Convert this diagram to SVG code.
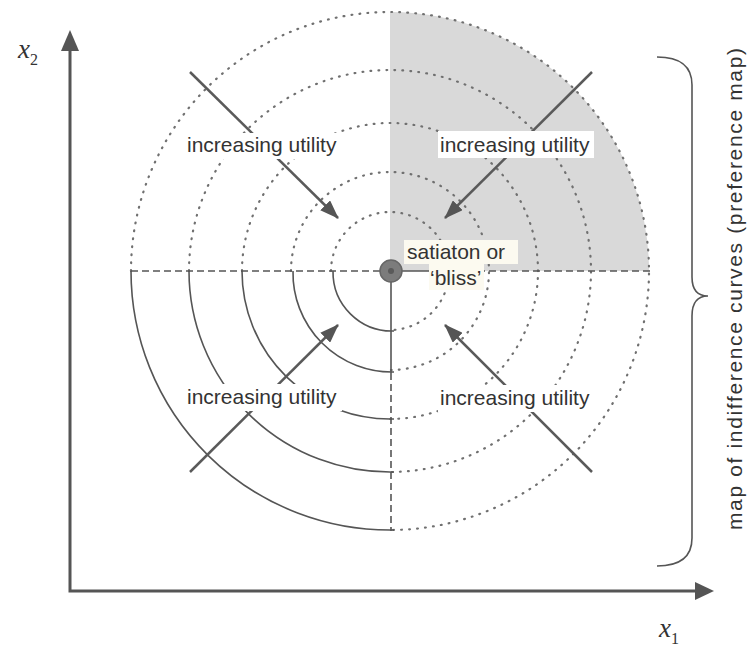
<svg xmlns="http://www.w3.org/2000/svg" width="747" height="646" viewBox="0 0 747 646">
<style>
.dot{fill:none;stroke:#707070;stroke-width:2.2;stroke-dasharray:0.8 7.2;stroke-linecap:round}
.arc{fill:none;stroke:#555;stroke-width:1.6}
.dash{fill:none;stroke:#555;stroke-width:1.6;stroke-dasharray:7 4}
.ax{fill:none;stroke:#555;stroke-width:3}
.arr{fill:none;stroke:#5a5a5a;stroke-width:2.5;marker-end:url(#ah)}
.lbl{font-family:"Liberation Sans",Arial,sans-serif;font-size:21px;fill:#333}
.var{font-family:"Liberation Serif","Times New Roman",serif;font-style:italic;fill:#333}
.box{fill:#fff}
</style>
<defs>
<marker id="ah" markerUnits="userSpaceOnUse" markerWidth="19" markerHeight="14" viewBox="0 0 19 14" refX="18" refY="7" orient="auto">
<path d="M0,0 L19,7 L0,14 z" fill="#555"/>
</marker>
</defs>
<rect width="747" height="646" fill="#fff"/>
<g id="preference-map">
<path d="M390,271 L390,12 A259 259 0 0 1 649,271 Z" fill="#d9d9d9"/>
<path class="dot" d="M131,271 A259 259 0 1 1 390,530"/>
<path class="dot" d="M189,271 A201 201 0 1 1 390,472"/>
<path class="dot" d="M242,271 A148 148 0 1 1 390,419"/>
<path class="dot" d="M291,271 A99 99 0 1 1 390,370"/>
<path class="dot" d="M331,271 A59 59 0 1 1 390,330"/>
<path class="arc" d="M131,271 A259 259 0 0 0 394,530"/>
<path class="arc" d="M189,271 A201 201 0 0 0 394,472"/>
<path class="arc" d="M242,271 A148 148 0 0 0 394,419"/>
<path class="arc" d="M293,271 A99 99 0 0 0 394,372"/>
<path class="arc" d="M333,271 A59 59 0 0 0 394,331"/>
<path class="dash" d="M131,271 H382"/>
<path class="arc" d="M400,271 H434"/>
<path class="dash" d="M434,271 H652"/>
<path class="arc" d="M391,282 V373"/>
<path class="dash" d="M391,373 V531"/>
</g>
<g id="axes">
<path class="ax" d="M70,48 V591 H696"/>
<polygon points="70,30 61,51 79,51" fill="#555"/>
<polygon points="714,591 695,582 695,600" fill="#555"/>
<text class="var" x="18" y="58" font-size="27">x<tspan font-size="16" dy="7" font-style="normal">2</tspan></text>
<text class="var" x="659" y="637" font-size="27">x<tspan font-size="16" dy="7" font-style="normal">1</tspan></text>
</g>
<g id="connectors">
<line class="arr" x1="190" y1="72" x2="338" y2="218"/>
<line class="arr" x1="592" y1="72" x2="445" y2="218"/>
<line class="arr" x1="190" y1="472" x2="338" y2="325"/>
<line class="arr" x1="592" y1="472" x2="445" y2="325"/>
</g>
<g id="label-ul">
<rect class="box" x="185" y="133" width="157" height="26"/>
<text class="lbl" x="187" y="152">increasing utility</text>
</g>
<g id="label-ur">
<rect class="box" x="438" y="131" width="156" height="27"/>
<text class="lbl" x="440" y="152">increasing utility</text>
</g>
<g id="label-ll">
<rect class="box" x="185" y="384" width="157" height="27"/>
<text class="lbl" x="187" y="404">increasing utility</text>
</g>
<g id="label-lr">
<rect class="box" x="438" y="385" width="156" height="27"/>
<text class="lbl" x="440" y="405">increasing utility</text>
</g>
<g id="bliss">
<circle cx="391" cy="271" r="11" fill="#7c7c7c" stroke="#666" stroke-width="1.5"/>
<circle cx="391" cy="271" r="3" fill="#5a5a5a"/>
<rect x="404" y="240" width="114" height="24" fill="#fcfaf0"/>
<rect x="429" y="264" width="55" height="26" fill="#fcfaf0"/>
<text class="lbl" x="407" y="259">satiaton or</text>
<text class="lbl" x="430" y="285">‘bliss’</text>
</g>
<g id="brace">
<path fill="none" stroke="#555" stroke-width="1.6" d="M657,57 Q692,57 692,85 L692,277 Q692,296 708,296 Q692,296 692,316 L692,538 Q692,566 657,566"/>
<text class="lbl" transform="rotate(-90 742 530)" x="742" y="530" textLength="482" lengthAdjust="spacing">map of indifference curves (preference map)</text>
</g>
</svg>
